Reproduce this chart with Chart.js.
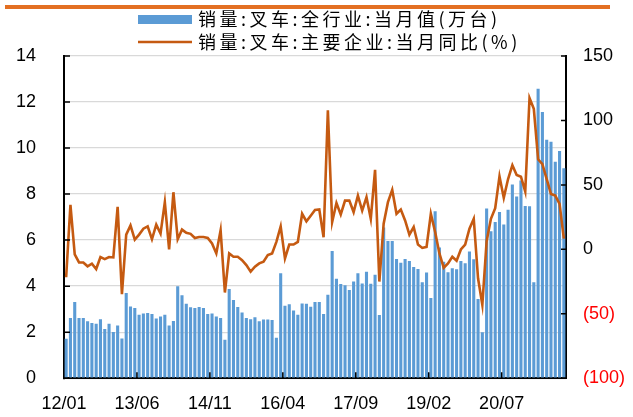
<!DOCTYPE html>
<html>
<head>
<meta charset="utf-8">
<script src="https://cdn.jsdelivr.net/npm/chart.js@4.4.1/dist/chart.umd.min.js"></script>
<style>
  html, body { margin: 0; padding: 0; background: #fff; }
  #wrap { width: 633px; height: 417px; }
</style>
</head>
<body>
<div id="wrap"><canvas id="c" width="633" height="417"></canvas></div>
<script>
// 叉车销量：全行业当月值（万台，柱）＋ 主要企业当月同比（%，线）
// 月份 2012/01 ~ 2021/09
const months = [];
for (let y = 2012; y <= 2021; y++) {
  for (let m = 1; m <= 12; m++) {
    if (y === 2021 && m > 9) break;
    months.push(String(y).slice(2) + '/' + String(m).padStart(2, '0'));
  }
}

const xTickLabels = ['12/01', '13/06', '14/11', '16/04', '17/09', '19/02', '20/07'];

// 全行业当月值（万台）
const salesAll = [
  1.71, 2.62, 3.31, 2.62, 2.62, 2.47, 2.40, 2.37, 2.56, 2.14, 2.37, 2.01,
  2.29, 1.73, 3.70, 3.12, 3.05, 2.76, 2.81, 2.83, 2.79, 2.59, 2.68, 2.76,
  2.29, 2.49, 4.00, 3.60, 3.24, 3.08, 3.05, 3.09, 3.05, 2.79, 2.81, 2.68,
  2.62, 1.67, 3.88, 3.40, 3.09, 2.85, 2.62, 2.56, 2.65, 2.47, 2.55, 2.55,
  2.53, 1.76, 4.56, 3.15, 3.21, 2.94, 2.76, 3.25, 3.24, 3.11, 3.31, 3.31,
  2.79, 3.63, 5.53, 4.32, 4.09, 4.04, 3.83, 4.20, 4.56, 4.12, 4.62, 4.10,
  4.49, 2.75, 6.55, 5.96, 5.96, 5.18, 5.02, 5.18, 5.09, 4.83, 4.75, 4.17,
  4.59, 3.48, 7.25, 5.68, 5.06, 4.60, 4.78, 4.73, 5.09, 4.99, 5.50, 5.17,
  3.44, 2.00, 7.37, 6.39, 6.79, 7.22, 6.68, 7.32, 8.42, 7.90, 8.59, 7.48,
  7.47, 4.17, 12.58, 11.57, 10.36, 10.27, 9.41, 9.87, 9.12
];

// 主要企业当月同比（%）
const yoyMain = [
  -21.7, 34.5, -4.0, -10.2, -10.2, -13.2, -11.2, -15.3, -6.0, -7.6, -6.0, -6.3,
  33.0, -34.8, 11.4, 18.6, 7.6, 11.4, 16.0, 17.8, 7.8, 19.1, 12.2, 36.6,
  -0.1, 44.3, 7.8, 15.3, 12.8, 12.0, 8.8, 9.6, 9.6, 8.8, 4.5, -3.2,
  14.7, -33.5, -3.2, -5.8, -5.8, -8.4, -12.2, -17.3, -13.5, -10.9, -9.6, -4.5,
  -3.2, 5.8, 17.8, -7.1, 3.7, 3.7, 5.8, 27.6, 21.7, 26.0, 30.5, 30.9,
  9.4, 107.9, 21.2, 36.0, 27.1, 37.8, 37.8, 28.9, 41.7, 30.1, 40.4, 23.7,
  61.7, -25.0, 19.9, 36.6, 46.1, 27.6, 30.9, 22.4, 11.4, 17.3, 3.7, 1.1,
  1.9, 27.6, 13.5, -3.2, -14.3, -10.9, -5.8, -8.9, -0.1, 3.7, 16.0, 23.7,
  -22.5, -43.0, 6.3, 23.7, 31.9, 56.6, 39.9, 54.5, 65.3, 57.6, 56.3, 44.8,
  117.4, 109.0, 69.9, 66.1, 54.5, 43.0, 41.7, 35.3, 8.3
];

const seriesNames = ['销量:叉车:全行业:当月值(万台)', '销量:叉车:主要企业:当月同比(%)'];

const BAR_COLOR = '#5B9BD5';
const LINE_COLOR = '#C55A11';
const TICK_FONT = { family: "'Liberation Sans', Arial, sans-serif", size: 18 };

// 图例、顶部橙线、内侧刻度
const decorPlugin = {
  id: 'decor',
  afterDraw(chart) {
    const { ctx, chartArea: a, scales: { x, y, y1 } } = chart;
    ctx.save();

    ctx.fillStyle = '#E36F22';
    ctx.fillRect(5, 5, 605, 4);

    // 图例
    ctx.font = "18px 'Noto Sans CJK SC', sans-serif";
    ctx.letterSpacing = '3.5px';
    ctx.textBaseline = 'middle';
    ctx.fillStyle = BAR_COLOR;
    ctx.fillRect(138, 15, 54, 9);
    ctx.strokeStyle = LINE_COLOR;
    ctx.lineWidth = 2.5;
    ctx.beginPath();
    ctx.moveTo(138, 42);
    ctx.lineTo(192, 42);
    ctx.stroke();
    ctx.fillStyle = '#000';
    ctx.fillText(seriesNames[0], 198, 19);
    ctx.fillText(seriesNames[1], 198, 42);
    ctx.letterSpacing = '0px';

    // 刻度线（朝内）
    ctx.strokeStyle = '#000';
    ctx.lineWidth = 1.5;
    ctx.beginPath();
    y.ticks.forEach(t => {
      const p = y.getPixelForValue(t.value);
      ctx.moveTo(a.left, p);
      ctx.lineTo(a.left + 6, p);
    });
    y1.ticks.forEach(t => {
      const p = y1.getPixelForValue(t.value);
      ctx.moveTo(a.right - 5, p);
      ctx.lineTo(a.right, p);
    });
    months.forEach((m, i) => {
      if (i > 0 && xTickLabels.includes(m)) {
        const p = (x.getPixelForValue(i - 1) + x.getPixelForValue(i)) / 2;
        ctx.moveTo(p, a.bottom);
        ctx.lineTo(p, a.bottom - 6);
      }
    });
    ctx.stroke();
    ctx.restore();
  }
};

new Chart(document.getElementById('c'), {
  type: 'bar',
  data: {
    labels: months,
    datasets: [
      {
        type: 'line',
        label: seriesNames[1],
        data: yoyMain,
        yAxisID: 'y1',
        borderColor: LINE_COLOR,
        borderWidth: 2.6,
        pointRadius: 0,
        tension: 0,
        order: 0
      },
      {
        type: 'bar',
        label: seriesNames[0],
        data: salesAll,
        yAxisID: 'y',
        backgroundColor: BAR_COLOR,
        barPercentage: 0.72,
        categoryPercentage: 1,
        order: 1
      }
    ]
  },
  options: {
    responsive: false,
    animation: false,
    layout: { padding: { top: 56, left: 0, right: 0, bottom: 0 } },
    plugins: {
      legend: { display: false },
      tooltip: { enabled: false }
    },
    scales: {
      x: {
        offset: true,
        grid: { display: false, drawTicks: false },
        border: { color: '#000', width: 2 },
        ticks: {
          autoSkip: false,
          maxRotation: 0,
          minRotation: 0,
          labelOffset: -2.15,
          padding: 15,
          font: TICK_FONT,
          color: '#000',
          callback: (v, i) => xTickLabels.includes(months[i]) ? months[i] : ''
        },
        afterFit: s => { s.height = 36; }
      },
      y: {
        position: 'left',
        min: 0,
        max: 14,
        grid: { color: '#D9D9D9', lineWidth: 1.3, drawTicks: false },
        border: { color: '#000', width: 2 },
        ticks: { stepSize: 2, padding: 28, font: TICK_FONT, color: '#000' },
        afterFit: s => { s.width = 64; }
      },
      y1: {
        position: 'right',
        min: -100,
        max: 150,
        grid: { display: false, drawTicks: false },
        border: { color: '#000', width: 2 },
        ticks: {
          stepSize: 50,
          padding: 17,
          font: TICK_FONT,
          color: c => c.tick.value < 0 ? '#FF0000' : '#000',
          callback: v => v < 0 ? `(${-v})` : `${v}`
        },
        afterFit: s => { s.width = 67; }
      }
    }
  },
  plugins: [decorPlugin]
});
</script>
</body>
</html>
